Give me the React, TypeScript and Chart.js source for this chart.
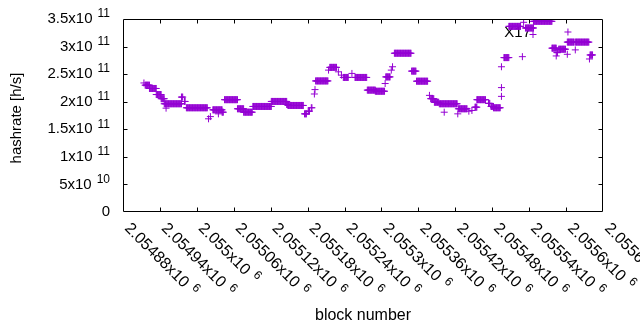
import React, { useEffect, useRef } from "react";
import { Chart, registerables } from "chart.js";

Chart.register(...registerables);

// Runs of consecutive blocks sharing the same hashrate (values in 1e9 h/s)
const runStart = [
  2054914, 2054916, 2054923, 2054934, 2054942, 2054947, 2054950, 2054975, 2054980, 2054983,
  2055019, 2055022, 2055026, 2055035, 2055041, 2055045, 2055066, 2055076, 2055091, 2055121,
  2055146, 2055148, 2055175, 2055181, 2055186, 2055191, 2055192, 2055193, 2055214, 2055216,
  2055230, 2055235, 2055238, 2055252, 2055257, 2055277, 2055290, 2055306, 2055307, 2055316,
  2055318, 2055321, 2055349, 2055357, 2055378, 2055380, 2055386, 2055394, 2055402, 2055424,
  2055425, 2055442, 2055447, 2055452, 2055455, 2055474, 2055478, 2055482, 2055495, 2055495,
  2055495, 2055499, 2055507, 2055529, 2055531, 2055534, 2055547, 2055577, 2055584, 2055585,
  2055588, 2055602, 2055603, 2055602, 2055615, 2055615, 2055638, 2055639,
];
const runEnd = [
  2054914, 2054923, 2054934, 2054942, 2054947, 2054975, 2054950, 2054977, 2054981, 2055017,
  2055019, 2055022, 2055041, 2055035, 2055043, 2055066, 2055076, 2055090, 2055121, 2055146,
  2055148, 2055173, 2055178, 2055183, 2055187, 2055191, 2055192, 2055213, 2055214, 2055227,
  2055230, 2055235, 2055246, 2055252, 2055276, 2055290, 2055305, 2055306, 2055314, 2055316,
  2055318, 2055348, 2055356, 2055375, 2055378, 2055385, 2055393, 2055423, 2055402, 2055424,
  2055439, 2055442, 2055447, 2055455, 2055469, 2055476, 2055482, 2055493, 2055495, 2055495,
  2055495, 2055507, 2055526, 2055529, 2055531, 2055547, 2055577, 2055584, 2055584, 2055586,
  2055599, 2055602, 2055603, 2055613, 2055615, 2055637, 2055638, 2055643,
];
const runValue = [
  234, 230, 224, 213, 205.5, 196.3, 188.3, 208.4, 200.5, 189,
  169, 173, 185.3, 178, 181, 203.7, 187.2, 181, 191.4, 200.5,
  195, 193.2, 178, 182.8, 189, 214, 222, 237.7, 257.3, 262.3,
  254.2, 248.2, 244, 251.3, 244, 221, 219, 233, 245, 257.3,
  263.4, 287.9, 255.5, 237.2, 211.5, 205.5, 199, 196.3, 181, 178,
  187.2, 182.8, 184.1, 190.1, 203.7, 197, 191.4, 189, 209.7, 225.6,
  263.4, 280, 336.6, 281.7, 344, 333.7, 345.8, 297.1, 283, 289,
  295.2, 286, 326.4, 308.1, 294, 308.1, 277.5, 284.8,
];

const xTickValues = [
  2054880, 2054940, 2055000, 2055060, 2055120, 2055180, 2055240,
  2055300, 2055360, 2055420, 2055480, 2055540, 2055600, 2055660,
];
const xTickMantissa = [
  "2.05488", "2.05494", "2.055", "2.05506", "2.05512", "2.05518", "2.05524",
  "2.0553", "2.05536", "2.05542", "2.05548", "2.05554", "2.0556", "2.05566",
];
const xTickExponent = "6";
const yTickValues = [0, 5e10, 1e11, 1.5e11, 2e11, 2.5e11, 3e11, 3.5e11];
const yTickMantissa = ["0", "5", "1", "1.5", "2", "2.5", "3", "3.5"];
const yTickExponent = ["", "10", "11", "11", "11", "11", "11", "11"];

const seriesName = "X17";
const xTitle = "block number";
const yTitle = "hashrate [h/s]";
const COLOR = "#9400d3";
const FONT = "'Liberation Sans', Arial, sans-serif";

function buildPoints() {
  const pts: { x: number; y: number }[] = [];
  for (let i = 0; i < runStart.length; i++) {
    for (let b = runStart[i]; b <= runEnd[i]; b++) {
      pts.push({ x: b, y: runValue[i] * 1e9 });
    }
  }
  return pts;
}

const framePlugin = {
  id: "gnuframe",
  beforeDatasetsDraw(chart: any) {
    const { ctx } = chart;
    ctx.save();
    ctx.fillStyle = "#000";
    ctx.font = `15px ${FONT}`;
    ctx.textAlign = "right";
    ctx.textBaseline = "middle";
    ctx.fillText(seriesName, 531, 33);
    // key sample
    ctx.strokeStyle = COLOR;
    ctx.lineWidth = 1;
    ctx.beginPath();
    ctx.moveTo(529.5, 34.5);
    ctx.lineTo(536.5, 34.5);
    ctx.moveTo(533, 31);
    ctx.lineTo(533, 38);
    ctx.stroke();
    ctx.restore();
  },
  afterDraw(chart: any) {
    const { ctx, chartArea: a, scales } = chart;
    const xs = scales.x;
    const ys = scales.y;
    ctx.save();
    const L = Math.floor(a.left) + 0.5;
    const R = Math.floor(a.right) - 0.5;
    const T = Math.floor(a.top) + 0.5;
    const B = Math.floor(a.bottom) - 0.5;
    ctx.strokeStyle = "#000";
    ctx.lineWidth = 1;
    ctx.beginPath();
    ctx.rect(L, T, R - L, B - T);
    const tl = 4;
    xTickValues.forEach((v) => {
      const px = Math.round(xs.getPixelForValue(v)) + 0.5;
      if (px <= L + 1 || px >= R - 1) return;
      ctx.moveTo(px, B);
      ctx.lineTo(px, B - tl);
      ctx.moveTo(px, T);
      ctx.lineTo(px, T + tl);
    });
    yTickValues.forEach((v) => {
      const py = Math.round(ys.getPixelForValue(v)) + 0.5;
      if (py <= T + 1 || py >= B - 1) return;
      ctx.moveTo(L, py);
      ctx.lineTo(L + tl, py);
      ctx.moveTo(R, py);
      ctx.lineTo(R - tl, py);
    });
    ctx.stroke();

    ctx.fillStyle = "#000";
    // y tick labels
    ctx.textBaseline = "middle";
    yTickValues.forEach((v, i) => {
      const py = ys.getPixelForValue(v);
      const rightX = 110;
      ctx.font = `12px ${FONT}`;
      const sup = yTickExponent[i];
      const supW = sup ? ctx.measureText(sup).width : 0;
      if (sup) {
        ctx.textAlign = "left";
        ctx.fillText(sup, rightX - supW, py - 5);
      }
      ctx.font = `15px ${FONT}`;
      ctx.textAlign = "right";
      const main = sup ? yTickMantissa[i] + "x10" : yTickMantissa[i];
      ctx.fillText(main, sup ? rightX - supW - 5 : rightX, py);
    });

    // x tick labels (rotated 45deg clockwise)
    xTickValues.forEach((v, i) => {
      const px = xs.getPixelForValue(v);
      ctx.save();
      ctx.translate(px + 4, 226);
      ctx.rotate(Math.PI / 4);
      ctx.textAlign = "left";
      ctx.textBaseline = "middle";
      ctx.font = `16px ${FONT}`;
      const main = xTickMantissa[i] + "x10";
      ctx.fillText(main, 0, 0);
      const w = ctx.measureText(main).width;
      ctx.font = `12px ${FONT}`;
      ctx.fillText(xTickExponent, w + 6, -5);
      ctx.restore();
    });

    // axis titles
    ctx.font = `16px ${FONT}`;
    ctx.textAlign = "center";
    ctx.textBaseline = "middle";
    ctx.fillText(xTitle, (a.left + a.right) / 2, 316);
    ctx.save();
    ctx.translate(17, 118);
    ctx.rotate(-Math.PI / 2);
    ctx.font = `15px ${FONT}`;
    ctx.fillText(yTitle, 0, 0);
    ctx.restore();
    ctx.restore();
  },
};

export default function App() {
  const ref = useRef<HTMLCanvasElement | null>(null);
  useEffect(() => {
    if (!ref.current) return;
    const chart = new Chart(ref.current, {
      type: "scatter",
      data: {
        datasets: [
          {
            label: seriesName,
            data: buildPoints(),
            pointStyle: "cross",
            pointRadius: 3.5,
            pointBorderWidth: 1,
            borderColor: COLOR,
            backgroundColor: COLOR,
            showLine: false,
          },
        ],
      },
      options: {
        animation: false,
        responsive: true,
        maintainAspectRatio: false,
        devicePixelRatio: 1,
        layout: { padding: { left: 123, right: 37, top: 19, bottom: 118 } },
        plugins: { legend: { display: false }, tooltip: { enabled: false } },
        scales: {
          x: { type: "linear", min: 2054880, max: 2055660, display: false },
          y: { type: "linear", min: 0, max: 3.5e11, display: false },
        },
      },
      plugins: [framePlugin],
    });
    return () => chart.destroy();
  }, []);
  return (
    <div style={{ position: "fixed", left: 0, top: 0, width: 640, height: 330, background: "#fff" }}>
      <canvas ref={ref} />
    </div>
  );
}
